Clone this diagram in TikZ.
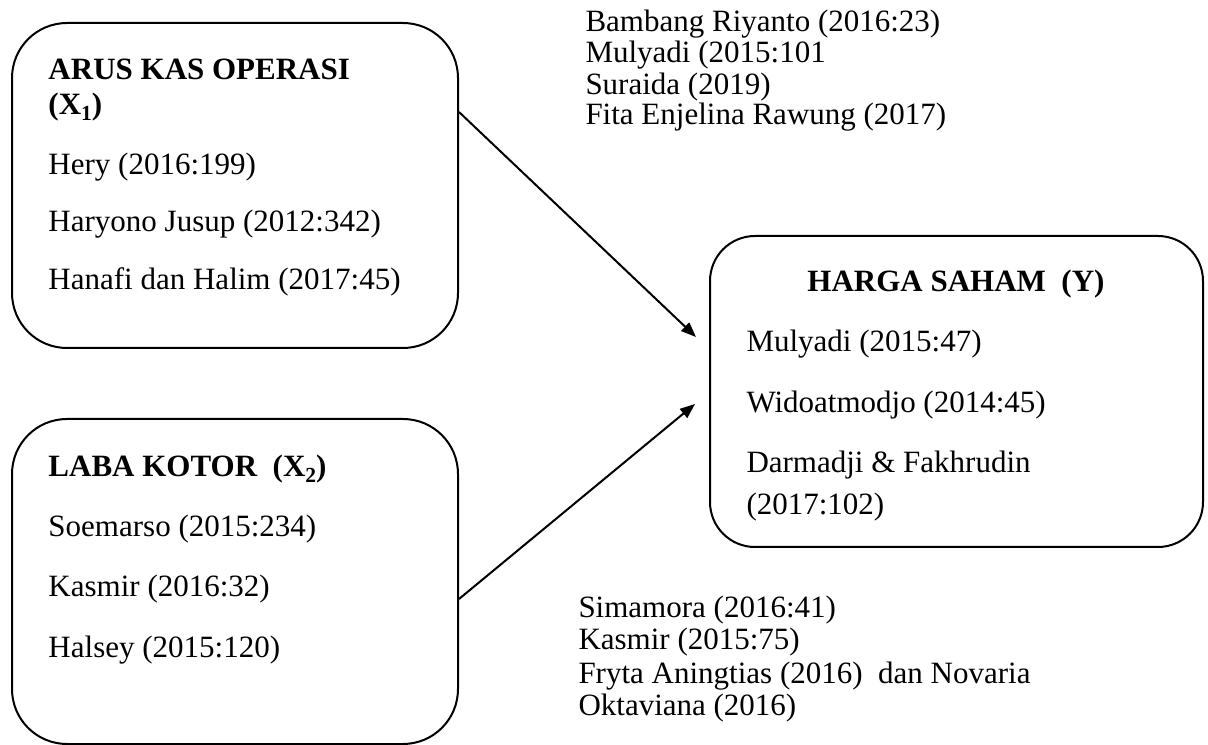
\documentclass[tikz,border=0pt]{standalone}
\usepackage{fontspec}
\setmainfont{Liberation Serif}
\usetikzlibrary{arrows.meta,calc}
\newcommand{\subone}[1]{\raisebox{-0.4ex}{\fontsize{8.6}{9}\selectfont #1}}
\begin{document}
\begin{tikzpicture}[x=0.4pt,y=-0.4pt,
  box/.style={draw,line width=0.8pt,rounded corners=#1,inner sep=0pt},
  txt/.style={inner sep=0pt,anchor=base west,font=\fontsize{12.4}{14}\selectfont},
  head/.style={txt,font=\fontsize{12.4}{14}\selectfont\bfseries},
  conn/.style={line width=0.8pt,-{Triangle[length=6pt,width=4.6pt]}}]
\useasboundingbox (0,0) rectangle (1208,745);
\begin{scope}
\clip (0,0) rectangle (1208,745);
% boxes
\node[box=22pt,minimum width=446*0.4pt,minimum height=325*0.4pt] (b1) at (235,185.5) {};
\node[box=22pt,minimum width=446*0.4pt,minimum height=325*0.4pt] (b2) at (235,581.5) {};
\node[box=18pt,minimum width=493*0.4pt,minimum height=311*0.4pt] (b3) at (956.5,391.5) {};
\end{scope}
% box 1 text
\node[head] (h1) at (48,80) {ARUS KAS OPERASI};
\node[head] (h1b) at (48,115) {(X\subone{1})};
\node[txt] (a1) at (48,175) {Hery (2016:199)};
\node[txt] (a2) at (48,232) {Haryono Jusup (2012:342)};
\node[txt] (a3) at (48,290) {Hanafi dan Halim (2017:45)};
% box 2 text
\node[head] (h2) at (48,477) {LABA KOTOR\ \ (X\subone{2})};
\node[txt] (c1) at (48,537) {Soemarso (2015:234)};
\node[txt] (c2) at (48,597) {Kasmir (2016:32)};
\node[txt] (c3) at (48,658) {Halsey (2015:120)};
% box 3 text
\node[head,anchor=base] (h3) at (956,292) {HARGA SAHAM\ \ (Y)};
\node[txt] (d1) at (746,352) {Mulyadi (2015:47)};
\node[txt] (d2) at (746,413) {Widoatmodjo (2014:45)};
\node[txt] (d3) at (746,473) {Darmadji \& Fakhrudin};
\node[txt] (d4) at (746,515) {(2017:102)};
% top-right references
\node[txt] (r1) at (585,32) {Bambang Riyanto (2016:23)};
\node[txt] (r2) at (585,63) {Mulyadi (2015:101};
\node[txt] (r3) at (585,95) {Suraida (2019)};
\node[txt] (r4) at (585,125) {Fita Enjelina Rawung (2017)};
% bottom references
\node[txt] (s1) at (578,618) {Simamora (2016:41)};
\node[txt] (s2) at (578,650) {Kasmir (2015:75)};
\node[txt] (s3) at (578,683) {Fryta Aningtias (2016)\ \ dan Novaria};
\node[txt] (s4) at (578,715) {Oktaviana (2016)};
% connectors
\draw[conn] ($(b1.north east)+(0,90)$) -- ($(b3.north west)+(-13,102)$);
\draw[conn] ($(b2.north east)+(0,181)$) -- ($(b3.north west)+(-14,169)$);
\end{tikzpicture}
\end{document}
